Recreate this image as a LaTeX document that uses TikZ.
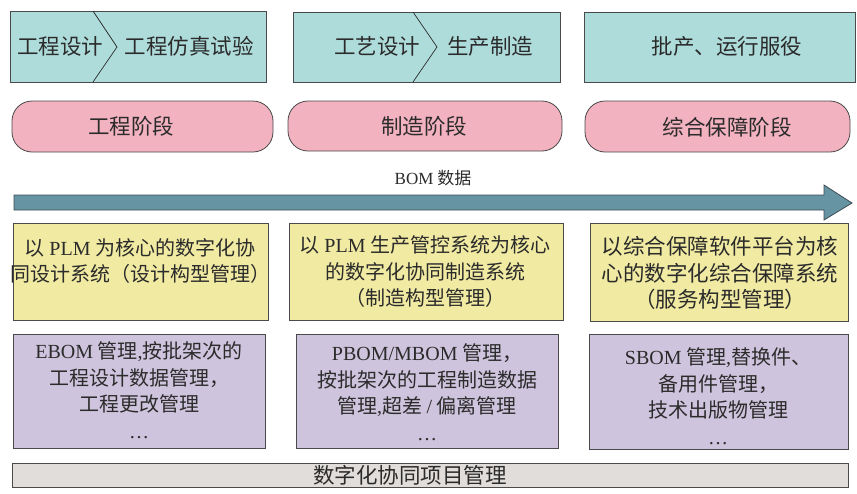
\documentclass[tikz,border=0pt]{standalone}
\usepackage{fontspec}
\setmainfont{Noto Sans CJK SC}
\newfontfamily\latfont{Liberation Serif}
\newcommand\La[1]{{\latfont #1}}
\definecolor{tealfill}{HTML}{AEDCDB}
\definecolor{pinkfill}{HTML}{F2B2C0}
\definecolor{arrowfill}{HTML}{6694A3}
\definecolor{arrowline}{HTML}{3D4D55}
\definecolor{yellowfill}{HTML}{F0EAA2}
\definecolor{purplefill}{HTML}{CFC4DD}
\definecolor{grayfill}{HTML}{E1DDDA}
\definecolor{edge}{HTML}{4A4A4A}
\definecolor{ink}{HTML}{2B2B2B}
\begin{document}
\begin{tikzpicture}[x=1pt,y=-1pt,
  box/.style={draw=edge, line width=0.8pt, inner sep=0pt},
  topbox/.style={box, fill=tealfill},
  phasebox/.style={box, fill=pinkfill, rounded corners=20pt},
  sysbox/.style={box, fill=yellowfill},
  funcbox/.style={box, fill=purplefill},
  barbox/.style={box, fill=grayfill},
  txt/.style={text=ink, inner sep=0pt, align=center, font=\fontsize{20}{26.5}\selectfont},
  bigtxt/.style={txt, font=\fontsize{21.5}{26.5}\selectfont},
  chev/.style={draw=ink, line width=0.7pt}
]
\useasboundingbox (0,0) rectangle (857,493);

% top boxes
\node[topbox, minimum width=256pt, minimum height=71pt] (t1) at (138,46.5) {};
\node[topbox, minimum width=267pt, minimum height=70pt] (t2) at (426.5,47) {};
\node[topbox, minimum width=271pt, minimum height=70pt] (t3) at (719.5,47) {};
\coordinate (c1a) at (93,11);
\coordinate (c1b) at (117,47);
\coordinate (c1c) at (93,82);
\draw[chev] (c1a) -- (c1b) -- (c1c);
\coordinate (c2a) at (413,12);
\coordinate (c2b) at (437,47);
\coordinate (c2c) at (413,82);
\draw[chev] (c2a) -- (c2b) -- (c2c);
\node[bigtxt] (t1a) at (60,46) {工程设计};
\node[bigtxt] (t1b) at (189,46) {工程仿真试验};
\node[bigtxt] (t2a) at (377,46) {工艺设计};
\node[bigtxt] (t2b) at (490,46) {生产制造};
\node[bigtxt] (t3a) at (727,46) {批产、运行服役};

% phase boxes
\node[phasebox, minimum width=261pt, minimum height=51pt] (p1) at (142.5,126.5) {};
\node[phasebox, minimum width=274pt, minimum height=50pt] (p2) at (425,126) {};
\node[phasebox, minimum width=265pt, minimum height=51pt] (p3) at (717.5,126.5) {};
\node[bigtxt] (p1t) at (131,126) {工程阶段};
\node[bigtxt] (p2t) at (424,126) {制造阶段};
\node[bigtxt] (p3t) at (727,127) {综合保障阶段};

% BOM arrow
\coordinate (a1) at (14,195);
\coordinate (a2) at (824,195);
\coordinate (a3) at (824,185);
\coordinate (a4) at (852,203);
\coordinate (a5) at (824,220);
\coordinate (a6) at (824,210);
\coordinate (a7) at (14,210);
\draw[fill=arrowfill, draw=arrowline, line width=0.8pt, line join=miter]
  (a1) -- (a2) -- (a3) -- (a4) -- (a5) -- (a6) -- (a7) -- cycle;
\node[txt, font=\fontsize{17}{20}\selectfont] (bom) at (433,178) {\La{BOM} 数据};

% system boxes
\node[sysbox, minimum width=255pt, minimum height=97pt] (s1) at (140.5,271.5) {};
\node[sysbox, minimum width=274pt, minimum height=97pt] (s2) at (426,271.5) {};
\node[sysbox, minimum width=258pt, minimum height=98pt] (s3) at (719,272) {};
\node[txt] (s1t) at (140,261) {以 \La{PLM} 为核心的数字化协\\同设计系统（设计构型管理）};
\node[txt] (s2t) at (425,272) {以 \La{PLM} 生产管控系统为核心\\的数字化协同制造系统\\（制造构型管理）};
\node[bigtxt] (s3t) at (720,273) {以综合保障软件平台为核\\心的数字化综合保障系统\\（服务构型管理）};

% function boxes
\node[funcbox, minimum width=252pt, minimum height=114pt] (f1) at (139,391) {};
\node[funcbox, minimum width=262pt, minimum height=114pt] (f2) at (427,391) {};
\node[funcbox, minimum width=259pt, minimum height=115pt] (f3) at (718.5,391.5) {};
\node[txt] (f1t) at (139,390) {\La{EBOM} 管理\La{,}按批架次的\\工程设计数据管理，\\工程更改管理\\\La{…}};
\node[txt] (f2t) at (427,392) {\La{PBOM/MBOM} 管理，\\按批架次的工程制造数据\\管理\La{,}超差 \La{/} 偏离管理\\\La{…}};
\node[txt] (f3t) at (718,396) {\La{SBOM} 管理\La{,}替换件、\\备用件管理，\\技术出版物管理\\\La{…}};

% bottom bar
\node[barbox, minimum width=836pt, minimum height=24pt] (bar) at (430,475) {};
\node[bigtxt] (bart) at (410,475) {数字化协同项目管理};
\end{tikzpicture}
\end{document}
